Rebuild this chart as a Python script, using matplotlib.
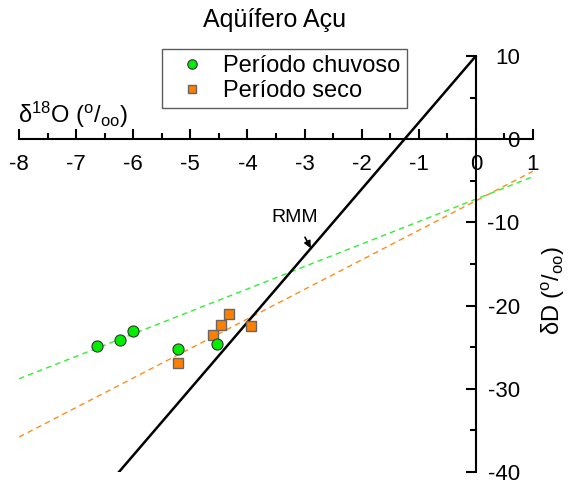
import matplotlib
matplotlib.use("Agg")
import matplotlib.pyplot as plt
import numpy as np
from matplotlib.ticker import MultipleLocator

plt.rcParams['font.family'] = ['Liberation Sans', 'DejaVu Sans']
plt.rcParams['mathtext.fontset'] = 'custom'
plt.rcParams['mathtext.rm'] = 'Liberation Sans'
plt.rcParams['mathtext.it'] = 'Liberation Sans:italic'
plt.rcParams['axes.unicode_minus'] = False

# Data
chuvoso_o18 = [-6.63, -6.23, -6.00, -5.21, -4.53]
chuvoso_d = [-24.8, -24.1, -23.0, -25.2, -24.6]
seco_o18 = [-5.22, -4.61, -4.46, -4.33, -3.93]
seco_d = [-26.9, -23.5, -22.3, -21.0, -22.5]

rmm_x = [-6.25, 0.0]
rmm_slope, rmm_icpt = 8.0, 10.0
fit_x = [-8.0, 1.0]
chuvoso_slope, chuvoso_icpt = 2.7, -7.2
seco_slope, seco_icpt = 3.55, -7.4

xticks = [-8, -7, -6, -5, -4, -3, -2, -1, 0, 1]
yticks = [-40, -30, -20, -10, 0, 10]

fig = plt.figure(figsize=(5.7, 4.84), dpi=100)
ax = fig.add_axes([19/570, (484-472)/484, 514/570, (472-56)/484])
ax.set_xlim(-8, 1)
ax.set_ylim(-40, 10)

fx = np.array(fit_x)
ax.plot(fx, chuvoso_slope*fx + chuvoso_icpt, ls=(0, (4, 3)), color='#33ee33', lw=1.0, zorder=2)
ax.plot(fx, seco_slope*fx + seco_icpt, ls=(0, (4, 3)), color='#ff8c1a', lw=1.0, zorder=2)
rx = np.array(rmm_x)
ax.plot(rx, rmm_slope*rx + rmm_icpt, color='black', lw=1.8, zorder=3)

ax.plot(seco_o18, seco_d, 's', color='#ff8000', markeredgecolor='#666666', markeredgewidth=1.0,
        markersize=7, label='Período seco', zorder=4)
ax.plot(chuvoso_o18, chuvoso_d, 'o', color='#00ee00', markeredgecolor='#333333', markeredgewidth=0.8,
        markersize=8, label='Período chuvoso', zorder=5)

for s in ['top', 'left']:
    ax.spines[s].set_visible(False)
ax.spines['bottom'].set_position(('data', 0))
ax.spines['right'].set_position(('data', 0))
for s in ['bottom', 'right']:
    ax.spines[s].set_linewidth(1.5)
ax.yaxis.tick_right()
ax.set_xticks(xticks)
ax.set_yticks(yticks)
ax.xaxis.set_minor_locator(MultipleLocator(0.5))
ax.yaxis.set_minor_locator(MultipleLocator(5))
ax.tick_params(axis='x', which='major', direction='in', length=7, width=1.5, labelsize=16, pad=11)
ax.tick_params(axis='x', which='minor', direction='in', length=4, width=1.5)
ax.tick_params(axis='y', which='major', direction='in', length=7, width=1.5, labelsize=16, pad=31.5)
ax.tick_params(axis='y', which='minor', direction='in', length=4, width=1.5)
for lbl in ax.get_yticklabels():
    lbl.set_horizontalalignment('right')
ax.patch.set_visible(False)

fig.text(18/570, 1-115/484, r'δ$^{18}$O ($^{\mathrm{o}}/_{\mathrm{oo}}$)', fontsize=17,
         ha='left', va='center')
fig.text(553/570, 1-290/484, r'δD ($^{\mathrm{o}}/_{\mathrm{oo}}$)', fontsize=17,
         rotation=90, ha='center', va='center')
fig.text(275/570, 1-20/484, 'Aqüífero Açu', fontsize=18, ha='center', va='center')

ax.annotate('RMM', xy=(-2.89, -13.1), xytext=(-3.18, -9.4), fontsize=14, ha='center', va='center',
            arrowprops=dict(arrowstyle='-|>', color='black', lw=1.2, mutation_scale=10,
                            shrinkA=7, shrinkB=0))

handles, labels = ax.get_legend_handles_labels()
leg = fig.legend(handles[::-1], labels[::-1], loc='upper left', bbox_to_anchor=(162/570, 1-49/484),
                 fontsize=17, frameon=True, fancybox=False, edgecolor='#333333',
                 handlelength=2.0, handletextpad=0.35, borderpad=0.25, labelspacing=0.15,
                 markerscale=0.85, borderaxespad=0)
leg.get_frame().set_linewidth(1.0)

fig.savefig('out.png', dpi=100)
